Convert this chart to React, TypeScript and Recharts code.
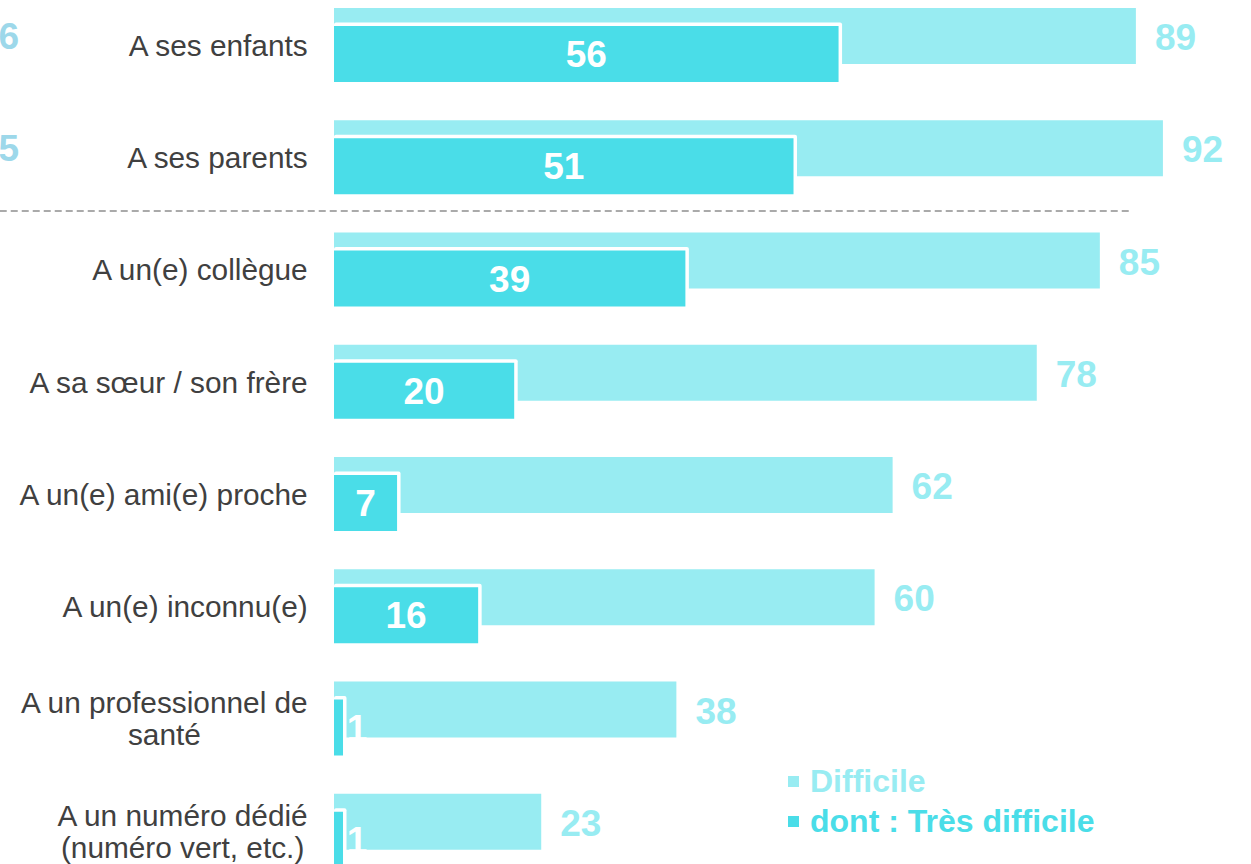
import React from 'react';
import { BarChart, Bar, XAxis, YAxis, LabelList, Legend, ReferenceLine } from 'recharts';

const categories = [
  'A ses enfants',
  'A ses parents',
  'A un(e) collègue',
  'A sa sœur / son frère',
  'A un(e) ami(e) proche',
  'A un(e) inconnu(e)',
  'A un professionnel de\nsanté',
  'A un numéro dédié\n(numéro vert, etc.)',
];
const difficile = [89, 92, 85, 78, 62, 60, 38, 23];
const tresDifficile = [56, 51, 39, 20, 7, 16, 1, 1];
const cutOffLabels = ['6', '5', '', '', '', '', '', ''];

const LIGHT = '#98ECF2';
const DARK = '#4ADDE8';
const CUT = '#9DD8EA';
const FONT = '"Liberation Sans", Arial, sans-serif';
const CAT_SIZE = 29.8;

const data = categories.map((c, i) => ({
  category: c,
  difficile: difficile[i],
  tres: tresDifficile[i],
  cut: cutOffLabels[i],
}));

let ctx: CanvasRenderingContext2D | null = null;
const measure = (t: string) => {
  if (!ctx) {
    const c = document.createElement('canvas');
    ctx = c.getContext('2d');
  }
  if (!ctx) return t.length * 14;
  ctx.font = `${CAT_SIZE}px ${FONT}`;
  return ctx.measureText(t).width;
};

const CategoryTick = (props: any) => {
  const { x, y, payload } = props;
  const lines = String(payload.value).split('\n');
  const right = x - 25.5;
  const maxW = Math.max(...lines.map(measure));
  const cx = right - maxW / 2;
  const lh = 32;
  const first = y - ((lines.length - 1) * lh) / 2;
  return (
    <text
      x={cx}
      y={first}
      textAnchor="middle"
      fontFamily={FONT}
      fontSize={CAT_SIZE}
      fill="#404040"
    >
      {lines.map((l, i) => (
        <tspan key={i} x={cx} y={first + i * lh} dy="0.36em">
          {l}
        </tspan>
      ))}
    </text>
  );
};

const DarkBarShape = (p: any) => {
  const { x, y, width, height } = p;
  const b = 3.5;
  return (
    <g>
      <rect x={x} y={y - b} width={width + b} height={height + b} rx={2} fill="#ffffff" />
      <rect x={x} y={y} width={width} height={height} fill={DARK} />
    </g>
  );
};

const LightValueLabel = (p: any) => {
  const { x, y, width, height, value } = p;
  return (
    <text
      x={x + width + 19}
      y={y + height / 2 + 14}
      textAnchor="start"
      fontFamily={FONT}
      fontWeight="bold"
      fontSize={37}
      fill={LIGHT}
    >
      {value}
    </text>
  );
};

const CutLabel = (p: any) => {
  const { y, height, value } = p;
  if (!value) return null;
  return (
    <text
      x={19}
      y={y + height / 2 + 13}
      textAnchor="end"
      fontFamily={FONT}
      fontWeight="bold"
      fontSize={37}
      fill={CUT}
    >
      {value}
    </text>
  );
};

const DarkValueLabel = (p: any) => {
  const { x, y, width, height, value } = p;
  const cx = Math.max(x + width / 2, x + 23);
  return (
    <text
      x={cx}
      y={y + height / 2 + 13}
      textAnchor="middle"
      fontFamily={FONT}
      fontWeight="bold"
      fontSize={37}
      fill="#ffffff"
    >
      {value}
    </text>
  );
};

const LegendContent = (props: any) => {
  const payload = props.payload || [];
  const order = ['difficile', 'tres'];
  const items = order
    .map((k) => payload.find((e: any) => e.dataKey === k))
    .filter(Boolean);
  return (
    <div style={{ fontFamily: FONT, fontWeight: 'bold', fontSize: 32 }}>
      {items.map((e: any, i: number) => (
        <div
          key={i}
          style={{ display: 'flex', alignItems: 'center', height: 40, lineHeight: '40px', color: e.color, whiteSpace: 'nowrap' }}
        >
          <span
            style={{ display: 'inline-block', width: 11, height: 11, background: e.color, marginRight: 11 }}
          />
          {e.value}
        </div>
      ))}
    </div>
  );
};

const DashedShape = (p: any) => (
  <line
    x1={p.x1}
    y1={p.y1 - 2.5}
    x2={p.x2}
    y2={p.y2 - 2.5}
    stroke="#AAAAAA"
    strokeWidth={2}
    strokeDasharray="7 4"
  />
);

export default function App() {
  return (
    <div style={{ position: 'absolute', left: 0, top: 0, width: 1251, height: 864, overflow: 'hidden', background: '#fff' }}>
      <BarChart
        width={1251}
        height={864}
        data={data}
        layout="vertical"
        margin={{ top: -11, right: 16, bottom: -23, left: 0 }}
        barGap={-38}
      >
        <XAxis type="number" domain={[0, 100]} hide />
        <YAxis
          type="category"
          dataKey="category"
          width={334}
          tickLine={false}
          axisLine={false}
          tickSize={0}
          tickMargin={0}
          interval={0}
          tick={<CategoryTick />}
        />
        <ReferenceLine
          segment={[
            { x: -37.1, y: categories[1] },
            { x: 88.3, y: categories[1] },
          ]}
          position="end"
          ifOverflow="visible"
          shape={<DashedShape />}
        />
        <Bar dataKey="difficile" name="Difficile" fill={LIGHT} barSize={56} isAnimationActive={false}>
          <LabelList dataKey="difficile" content={<LightValueLabel />} />
          <LabelList dataKey="cut" content={<CutLabel />} />
        </Bar>
        <Bar
          dataKey="tres"
          name="dont : Très difficile"
          fill={DARK}
          barSize={56}
          shape={<DarkBarShape />}
          isAnimationActive={false}
        >
          <LabelList dataKey="tres" content={<DarkValueLabel />} />
        </Bar>
        <Legend
          layout="vertical"
          align="center"
          verticalAlign="middle"
          content={<LegendContent />}
          wrapperStyle={{ left: 788, top: 761, width: 'auto', bottom: 'auto', right: 'auto' }}
        />
      </BarChart>
    </div>
  );
}
